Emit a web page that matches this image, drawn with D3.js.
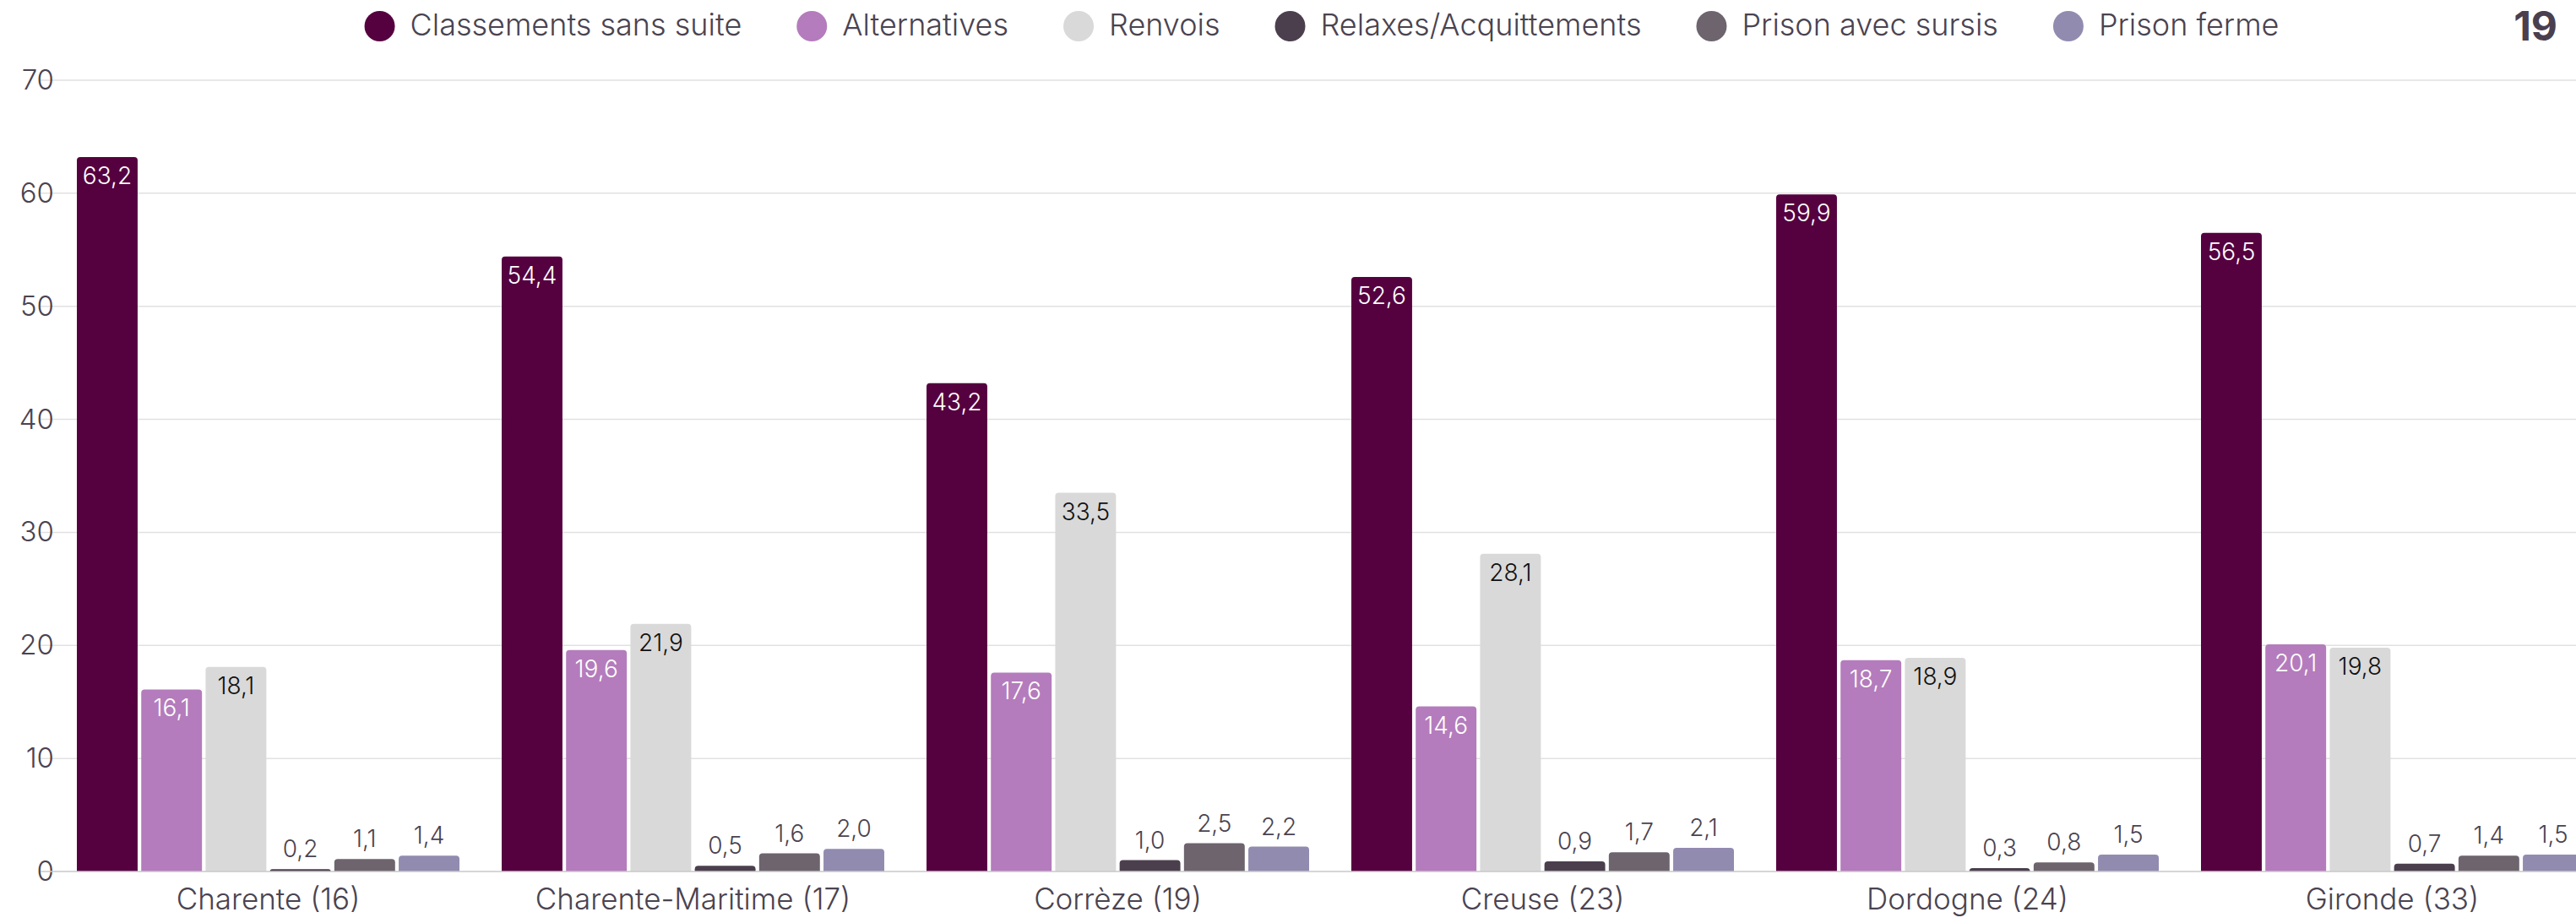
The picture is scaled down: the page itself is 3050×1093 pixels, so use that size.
<!DOCTYPE html>
<html>
<head>
<meta charset="utf-8">
<script src="https://cdn.jsdelivr.net/npm/d3@7"></script>
<style>
    body { margin: 0; background: #fff; }
    svg { display: block; font-family: "Inter", sans-serif; }
</style>
</head>
<body>
<div id="root"></div>
<script>
// data (percentages)
var categories = ["Charente (16)", "Charente-Maritime (17)", "Corrèze (19)", "Creuse (23)", "Dordogne (24)", "Gironde (33)"];
var seriesNames = ["Classements sans suite", "Alternatives", "Renvois", "Relaxes/Acquittements", "Prison avec sursis", "Prison ferme"];

var classements = [63.2, 54.4, 43.2, 52.6, 59.9, 56.5];
var alternatives = [16.1, 19.6, 17.6, 14.6, 18.7, 20.1];
var renvois = [18.1, 21.9, 33.5, 28.1, 18.9, 19.8];
var relaxes = [0.2, 0.5, 1.0, 0.9, 0.3, 0.7];
var sursis = [1.1, 1.6, 2.5, 1.7, 0.8, 1.4];
var ferme = [1.4, 2.0, 2.2, 2.1, 1.5, 1.5];

var yTicks = [0, 10, 20, 30, 40, 50, 60, 70];
var pageNumber = "19";

var seriesValues = [classements, alternatives, renvois, relaxes, sursis, ferme];
var colors = ["#55003f", "#b47cbc", "#d9d9d9", "#4b3f4e", "#6d646e", "#928bb0"];
// label inside the bar for the big series, above it for the small ones
var labelInside = [true, true, true, false, false, false];
var labelColors = ["#ffffff", "#ffffff", "#111111", "#4a4350", "#4a4350", "#4a4350"];

var width = 3050, height = 1093;
var textColor = "#4a4350";
var font = "Inter, sans-serif";

var svg = d3.select("#root")
    .append("svg")
    .attr("width", width)
    .attr("height", height);

var y = d3.scaleLinear().domain([0, 70]).range([1032, 95]);

var x0 = d3.scaleBand()
    .domain(categories)
    .range([66, 66 + 6 * 503]);

var x1 = d3.scaleBand()
    .domain(seriesNames)
    .range([25, 478])
    .paddingInner(0.056);

var frFormat = d3.formatLocale({ decimal: ",", thousands: " ", grouping: [3], currency: ["", "€"] }).format(".1f");

// gridlines
svg.append("g")
    .selectAll("line")
    .data(yTicks.filter((d) => d > 0))
    .enter()
    .append("line")
    .attr("x1", 48)
    .attr("x2", width)
    .attr("y1", (d) => y(d))
    .attr("y2", (d) => y(d))
    .attr("stroke", "#e1e1e1")
    .attr("stroke-width", 1.5);

// y axis labels
var yAxis = d3.axisLeft(y).tickValues(yTicks).tickSize(0).tickPadding(0);
var yg = svg.append("g")
    .attr("transform", "translate(64,0)")
    .call(yAxis);
yg.select(".domain").remove();
yg.selectAll("text")
    .attr("font-family", font)
    .attr("font-size", 33)
    .attr("font-weight", 300)
    .attr("fill", textColor);

// bars
function topRounded(x, yTop, w, h, r) {
    r = Math.min(r, h, w / 2);
    return "M" + x + "," + (yTop + h) +
        "V" + (yTop + r) +
        "Q" + x + "," + yTop + " " + (x + r) + "," + yTop +
        "H" + (x + w - r) +
        "Q" + (x + w) + "," + yTop + " " + (x + w) + "," + (yTop + r) +
        "V" + (yTop + h) + "Z";
}

var rows = [];
categories.forEach((cat, i) => {
    seriesNames.forEach((s, j) => {
        rows.push({ cat: cat, series: s, j: j, value: seriesValues[j][i] });
    });
});

var bars = svg.append("g");
bars.selectAll("path")
    .data(rows)
    .enter()
    .append("path")
    .attr("d", (d) => {
        var bx = x0(d.cat) + x1(d.series);
        var top = y(d.value);
        return topRounded(bx, top, x1.bandwidth(), y(0) - top, 4);
    })
    .attr("fill", (d) => colors[d.j]);

// zero line
svg.append("line")
    .attr("x1", 48)
    .attr("x2", width)
    .attr("y1", y(0))
    .attr("y2", y(0))
    .attr("stroke", "#c9c9c9")
    .attr("stroke-width", 1.5);

// value labels
svg.append("g")
    .selectAll("text")
    .data(rows)
    .enter()
    .append("text")
    .attr("x", (d) => x0(d.cat) + x1(d.series) + x1.bandwidth() / 2)
    .attr("y", (d) => labelInside[d.j] ? y(d.value) + 32 : y(d.value) - 14)
    .attr("text-anchor", "middle")
    .attr("font-size", 28)
    .attr("font-weight", 300)
    .attr("fill", (d) => labelColors[d.j])
    .text((d) => frFormat(d.value));

// category labels
var xAxis = d3.axisBottom(x0).tickSize(0).tickPadding(0);
var xg = svg.append("g")
    .attr("transform", "translate(0,1052)")
    .call(xAxis);
xg.select(".domain").remove();
xg.selectAll("text")
    .attr("font-family", font)
    .attr("font-size", 35)
    .attr("font-weight", 300)
    .attr("fill", textColor)
    .attr("dy", "0.72em");

// legend
var legend = svg.append("g");
var items = legend.selectAll("g")
    .data(seriesNames)
    .enter()
    .append("g");
items.append("circle")
    .attr("cx", 18)
    .attr("cy", 31)
    .attr("r", 18)
    .attr("fill", (d, i) => colors[i]);
items.append("text")
    .attr("x", 54)
    .attr("y", 42)
    .attr("font-size", 36)
    .attr("font-weight", 300)
    .attr("fill", textColor)
    .text((d) => d);

var offset = 0;
var widths = [];
items.each(function () {
    widths.push(this.querySelector("text").getComputedTextLength() + 54);
});
var total = d3.sum(widths) + 65 * (widths.length - 1);
offset = 1565 - total / 2;
items.attr("transform", (d, i) => {
    var t = "translate(" + offset + ",0)";
    offset += widths[i] + 65;
    return t;
});

// page number
svg.append("text")
    .attr("x", 3028)
    .attr("y", 48)
    .attr("text-anchor", "end")
    .attr("font-size", 48)
    .attr("font-weight", 700)
    .attr("fill", "#4a3f4f")
    .text(pageNumber);
</script>
</body>
</html>
